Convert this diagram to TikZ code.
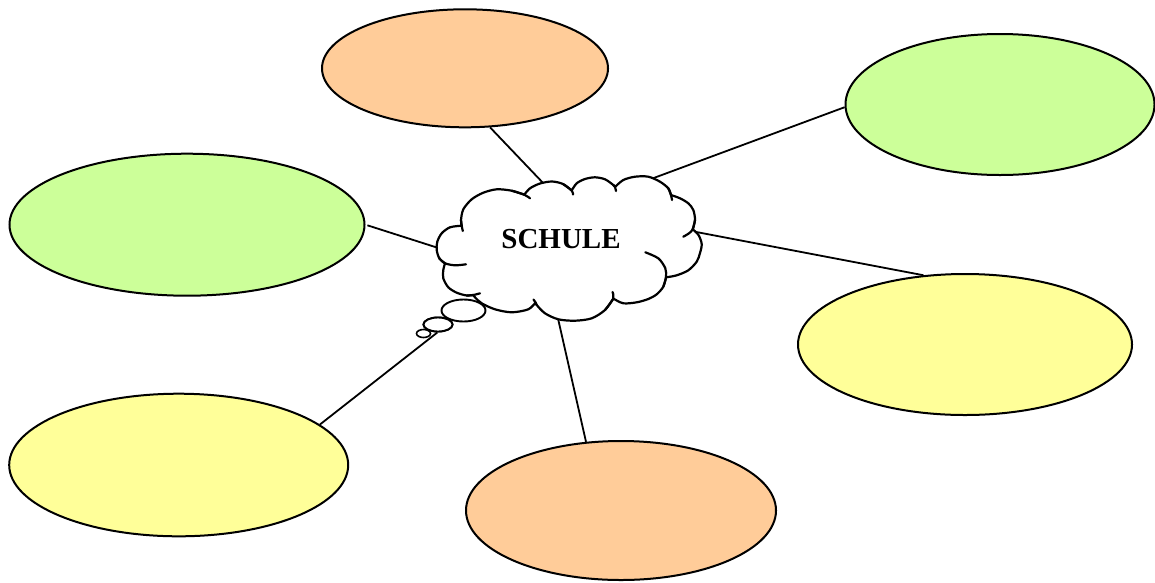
\documentclass[tikz,border=0pt]{standalone}
\usepackage{fontspec}
\setmainfont{Liberation Serif}
\usetikzlibrary{shapes.geometric}
\definecolor{peach}{HTML}{FFCC99}
\definecolor{lime}{HTML}{CCFF99}
\definecolor{paleyellow}{HTML}{FFFF99}
\begin{document}
\begin{tikzpicture}[x=1pt,y=-1pt,
  oval/.style={ellipse, draw, line width=2pt, inner sep=0pt},
  link/.style={line width=1.8pt},
  outline/.style={line width=2.2pt, line join=round, line cap=round}]
\useasboundingbox (0,0) rectangle (1155,582);

% topic ovals
\node[oval, fill=peach, minimum width=286pt, minimum height=118pt] (e1) at (465,68.3) {};
\node[oval, fill=lime, minimum width=309pt, minimum height=141pt] (e2) at (1000,104.5) {};
\node[oval, fill=lime, minimum width=355pt, minimum height=142pt] (e3) at (187,224.7) {};
\node[oval, fill=paleyellow, minimum width=334pt, minimum height=141pt] (e4) at (965,344.5) {};
\node[oval, fill=paleyellow, minimum width=339pt, minimum height=142.6pt] (e5) at (178.7,465) {};
\node[oval, fill=peach, minimum width=310pt, minimum height=139pt] (e6) at (621,510.5) {};

% thought bubble the lower-left spoke runs to
\path (438,324.5) node[oval, minimum width=29pt, minimum height=14pt] (b2) {};

% points where the spokes meet the cloud (under its white fill)
\coordinate (kA) at (545,185);
\coordinate (kB) at (651,179);
\coordinate (kC) at (441.5,249);
\coordinate (kD) at (690,230.8);
\coordinate (kE) at (557.2,315);

% spokes
\draw[link] (e1.-67.3) -- (kA);
\draw[link] (e2.181) -- (kB);
\draw[link, shorten <=2pt] (e3.east) -- (kC);
\draw[link] (e4.121.3) -- (kD);
\draw[link] (e6.117.4) -- (kE);
\draw[link] (e5.16.4) -- (b2.265);

% cloud outline, one smooth arc per lobe
\filldraw[outline, fill=white]
  plot[smooth] coordinates {(461.7,225.7) (461,220) (463.3,209.3) (471.7,199.3) (483.3,192.7) (496.7,189.3) (511.7,190.7) (524.3,194.7)}
  -- plot[smooth] coordinates {(524.3,194.7) (530,188.3) (540,183.5) (552,181.5) (563,184) (571.7,190.5)}
  -- plot[smooth] coordinates {(571.7,190.5) (576.7,183.3) (585,179) (595,177.3) (605,179.3) (613.3,185) (615,187)}
  -- plot[smooth] coordinates {(615,187) (623.3,180) (635,176.7) (648.3,176.7) (660,181.7) (668.3,188.3) (671,195)}
  -- plot[smooth] coordinates {(671,195) (680,198.3) (688.3,203.3) (693.3,210) (695,220) (692.7,229.3)}
  -- plot[smooth] coordinates {(692.7,229.3) (698.5,235) (701.7,244) (700,253) (696.7,261.7) (688,270.5) (676,275.5) (666,277.3)}
  -- plot[smooth] coordinates {(666,277.3) (663.3,286.7) (656.7,294.3) (648.3,299) (636.7,302.3) (623.3,303.3) (613.3,298.5)}
  -- plot[smooth] coordinates {(613.3,298.5) (605,310) (591.7,318.3) (575,320.7) (558.3,319.3) (545,313.3) (536.7,305) (535.5,302.5)}
  -- plot[smooth] coordinates {(535.5,302.5) (528.3,309.3) (511.7,312.3) (495,309.3) (481.7,303.3) (475,297.3) (473.3,295)}
  -- plot[smooth] coordinates {(473.3,295) (466.7,295.5) (456.7,292.7) (448.3,287.3) (443.3,278.3) (443.3,270) (445,263.3)}
  -- plot[smooth] coordinates {(445,263.3) (439.3,258.3) (436.7,250) (437.3,241.7) (441.7,233.3) (450,227.3) (461.7,225.7)}
  -- cycle;

% inner arc ends where the lobes overlap
\draw[outline] plot[smooth] coordinates {(461,220) (461.7,225.7) (462.8,231)};
\draw[outline] plot[smooth] coordinates {(511.7,190.7) (524.3,194.7) (530,198.3)};
\draw[outline] plot[smooth] coordinates {(563,184) (571.7,190.5) (573,194.5)};
\draw[outline] plot[smooth] coordinates {(613.3,185) (615,187) (616,191)};
\draw[outline] plot[smooth] coordinates {(668.3,188.3) (671,195) (672,200)};
\draw[outline] plot[smooth] coordinates {(695,220) (692.7,229.3) (689,233.3) (683.3,236.7)};
\draw[outline] plot[smooth] coordinates {(663.3,286.7) (666,277.3) (665.3,268.3) (658.3,258.3) (645.3,252.3)};
\draw[outline] plot[smooth] coordinates {(605,310) (613.3,298.5) (612.5,292)};
\draw[outline] plot[smooth] coordinates {(536.7,305) (535.5,302.5) (533.5,299.5)};
\draw[outline] plot[smooth] coordinates {(466.7,295.5) (473.3,295) (480,293.3)};
\draw[outline] plot[smooth] coordinates {(439.3,258.3) (445,263.3) (455,265.3) (466,264.3)};

% title
\node[font=\fontsize{29}{32}\selectfont\bfseries, inner sep=0pt] (cloud) at (561,239) {SCHULE};

% bubbles
\node[oval, fill=white, line width=1.9pt, minimum width=44pt, minimum height=22pt] (b1) at (463.5,310.5) {};
\node[oval, fill=white, line width=1.9pt, minimum width=29pt, minimum height=14pt] at (b2) {};
\node[oval, fill=white, line width=1.6pt, minimum width=14pt, minimum height=8pt] (b3) at (423.5,333.5) {};
\end{tikzpicture}
\end{document}
